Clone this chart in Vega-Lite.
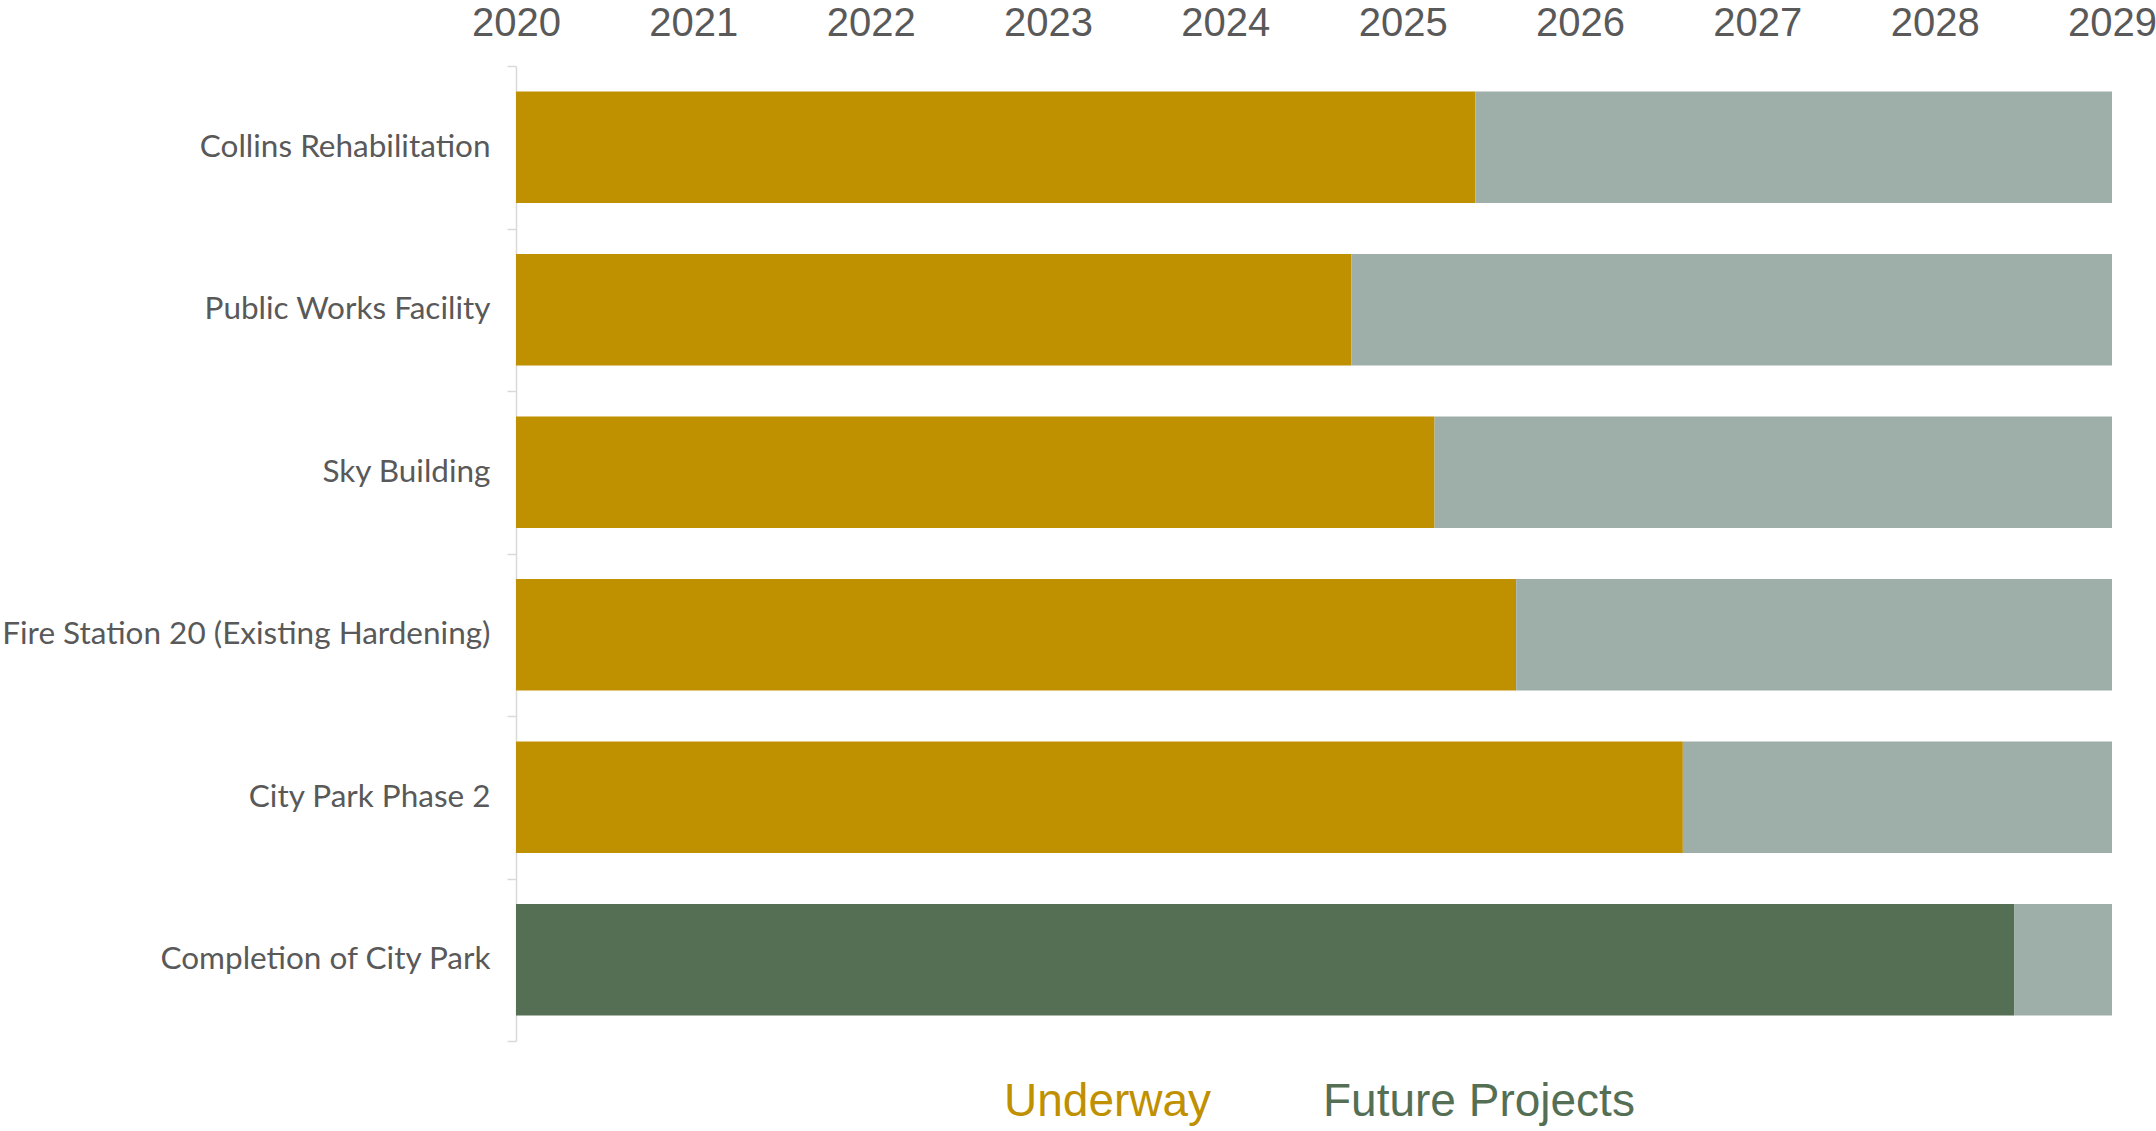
{
  "$schema": "https://vega.github.io/schema/vega-lite/v6.json",
  "autosize": "none",
  "padding": {"left": 516, "top": 66, "right": 44, "bottom": 90},
  "width": 1596,
  "height": 975,
  "background": "white",
  "config": {"view": {"stroke": null}},
  "data": {
    "values": [
      {"project": "Collins Rehabilitation", "status": "Underway", "start": 2020, "end": 2025.41},
      {"project": "Collins Rehabilitation", "status": "Remaining", "start": 2025.41, "end": 2029},
      {"project": "Public Works Facility", "status": "Underway", "start": 2020, "end": 2024.71},
      {"project": "Public Works Facility", "status": "Remaining", "start": 2024.71, "end": 2029},
      {"project": "Sky Building", "status": "Underway", "start": 2020, "end": 2025.18},
      {"project": "Sky Building", "status": "Remaining", "start": 2025.18, "end": 2029},
      {"project": "Fire Station 20 (Existing Hardening)", "status": "Underway", "start": 2020, "end": 2025.64},
      {"project": "Fire Station 20 (Existing Hardening)", "status": "Remaining", "start": 2025.64, "end": 2029},
      {"project": "City Park Phase 2", "status": "Underway", "start": 2020, "end": 2026.58},
      {"project": "City Park Phase 2", "status": "Remaining", "start": 2026.58, "end": 2029},
      {"project": "Completion of City Park", "status": "Future Projects", "start": 2020, "end": 2028.45},
      {"project": "Completion of City Park", "status": "Remaining", "start": 2028.45, "end": 2029}
    ]
  },
  "mark": {"type": "bar", "height": {"band": 0.686}},
  "encoding": {
    "y": {
      "field": "project",
      "type": "nominal",
      "sort": ["Collins Rehabilitation", "Public Works Facility", "Sky Building", "Fire Station 20 (Existing Hardening)", "City Park Phase 2", "Completion of City Park"],
      "scale": {"paddingInner": 0, "paddingOuter": 0},
      "axis": {
        "title": null,
        "tickBand": "extent",
        "domainColor": "#D9D9D9",
        "domainWidth": 1.5,
        "tickColor": "#D9D9D9",
        "tickWidth": 1.5,
        "tickSize": 9,
        "labelPadding": 17,
        "labelFont": "Lato",
        "labelFontSize": 31.5,
        "labelColor": "#595959",
        "labelLimit": 0
      }
    },
    "x": {
      "field": "start",
      "type": "quantitative",
      "scale": {"domain": [2020, 2029], "nice": false, "zero": false},
      "axis": {
        "orient": "top",
        "title": null,
        "values": [2020, 2021, 2022, 2023, 2024, 2025, 2026, 2027, 2028, 2029],
        "format": "d",
        "domain": false,
        "ticks": false,
        "grid": false,
        "labelFlush": false,
        "labelPadding": 23,
        "labelFont": "Liberation Sans",
        "labelFontSize": 40,
        "labelColor": "#595959"
      }
    },
    "x2": {"field": "end"},
    "color": {
      "field": "status",
      "type": "nominal",
      "scale": {"domain": ["Underway", "Future Projects", "Remaining"], "range": ["#BF9000", "#556F55", "#9EAFA9"]},
      "legend": {
        "title": null,
        "values": ["Underway", "Future Projects"],
        "orient": "none",
        "direction": "horizontal",
        "legendX": 442,
        "legendY": 1013,
        "symbolSize": 0,
        "symbolOpacity": 0,
        "symbolStrokeWidth": 0,
        "labelOffset": 0,
        "columnPadding": 65,
        "labelFont": "Liberation Sans",
        "labelFontSize": 46,
        "labelLimit": 0,
        "labelColor": {"expr": "datum.value === 'Underway' ? '#BF9000' : '#556F55'"}
      }
    }
  }
}
